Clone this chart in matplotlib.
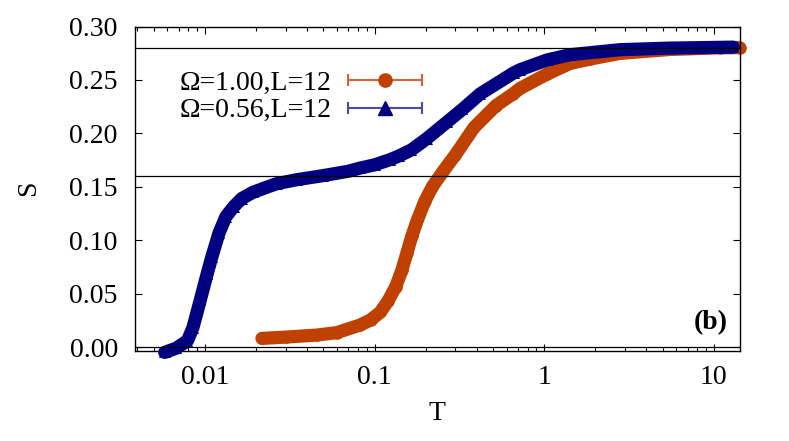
import numpy as np
import matplotlib
matplotlib.use('Agg')
import matplotlib.pyplot as plt
from matplotlib.ticker import FuncFormatter, NullFormatter, LogLocator, MultipleLocator
from matplotlib.legend_handler import HandlerErrorbar

# Omega = 1.00, L = 12
t_w100 = [0.0217, 0.03, 0.0457, 0.06, 0.0822, 0.095, 0.108, 0.12, 0.1334,
          0.145, 0.155, 0.166, 0.179, 0.198, 0.219, 0.255, 0.300, 0.386,
          0.52, 0.656, 0.72, 1.04, 1.42, 1.86, 2.79, 5.5, 10.8, 14.2]
s_w100 = [0.0081, 0.0093, 0.0112, 0.0135, 0.0206, 0.0255, 0.0325, 0.043,
          0.0565, 0.072, 0.0877, 0.104, 0.119, 0.1365, 0.150, 0.165, 0.180,
          0.2055, 0.226, 0.237, 0.242, 0.2555, 0.2654, 0.2695, 0.2748,
          0.2785, 0.2801, 0.2802]

# Omega = 0.56, L = 12
t_w056 = [0.0058, 0.0068, 0.0079, 0.0085, 0.0094, 0.0103, 0.0110, 0.0121,
          0.0133, 0.0148, 0.0165, 0.0193, 0.0265, 0.0348, 0.05, 0.07, 0.0822,
          0.1, 0.124, 0.14, 0.165, 0.203, 0.267, 0.33, 0.42, 0.66, 0.72,
          1.04, 1.42, 2.79, 5.5, 10.8, 13.0]
s_w056 = [-0.005, -0.001, 0.006, 0.018, 0.044, 0.068, 0.0845, 0.1064, 0.122,
          0.1314, 0.139, 0.145, 0.1529, 0.1566, 0.1605, 0.1645, 0.1675,
          0.1705, 0.1755, 0.179, 0.1845, 0.195, 0.2105, 0.2225, 0.237,
          0.2565, 0.2595, 0.2687, 0.2736, 0.2783, 0.2798, 0.2805, 0.2807]

ref_levels = [0.28, 0.16, 0.0]
labels = ['\u03a9=1.00,L=12', '\u03a9=0.56,L=12']

red = '#c04000'
red_bar = '#e0603a'
blue = '#000080'
blue_bar = '#4a4aaa'

plt.rcParams['font.family'] = ['Liberation Serif', 'DejaVu Serif']

fig = plt.figure(figsize=(7.89, 4.41), dpi=100)
ax = fig.add_axes([0.1705, 0.2041, 0.767, 0.7358])

ax.plot(t_w100, s_w100, '-', color=red, lw=9.5, solid_capstyle='round',
        solid_joinstyle='round', clip_on=False, zorder=2)
ax.plot(t_w100, s_w100, 'o', color=red, ms=9, mew=0, clip_on=False, zorder=2)
ax.plot(t_w056, s_w056, '-', color=blue, lw=9.5, solid_capstyle='round',
        solid_joinstyle='round', clip_on=False, zorder=3)
ax.plot(t_w056, s_w056, '^', color=blue, ms=9, mew=0, clip_on=False, zorder=3)

for lev in ref_levels:
    ax.axhline(lev, color='black', lw=0.9, zorder=4)

# legend proxies in gnuplot errorbar style
h1 = ax.errorbar([np.nan], [np.nan], xerr=[1.0], fmt='o', color=red,
                 ecolor=red_bar, ms=9.5, elinewidth=1.5, capsize=4,
                 capthick=1.5, label=labels[0])
h2 = ax.errorbar([np.nan], [np.nan], xerr=[1.0], fmt='^', color=blue,
                 ecolor=blue_bar, ms=10, elinewidth=1.5, capsize=4,
                 capthick=1.5, label=labels[1])
ax.legend(handles=[h1, h2], loc='center', bbox_to_anchor=(0.2747, 0.7837),
          frameon=False, fontsize=20, markerfirst=False, numpoints=1,
          handlelength=2.66, handletextpad=0.61, labelspacing=0.08,
          borderpad=0, handler_map={type(h1): HandlerErrorbar(xerr_size=1.33)})

ax.set_xscale('log')
ax.set_xlim(0.00385, 14.2)
ax.set_ylim(-0.0037, 0.30)
ax.yaxis.set_major_locator(MultipleLocator(0.05))
ax.yaxis.set_major_formatter(FuncFormatter(lambda v, p: f'{v:.2f}'))
ax.xaxis.set_major_locator(LogLocator(base=10))
ax.xaxis.set_minor_locator(LogLocator(base=10, subs=np.arange(2, 10)))
ax.xaxis.set_major_formatter(FuncFormatter(lambda v, p: f'{v:g}'))
ax.xaxis.set_minor_formatter(NullFormatter())

ax.tick_params(which='both', direction='in', top=True, right=True,
               labelsize=20, width=0.8)
ax.tick_params(which='major', length=5)
ax.tick_params(which='minor', length=3)
ax.tick_params(axis='y', pad=12)
ax.tick_params(axis='x', pad=10)
for sp in ax.spines.values():
    sp.set_linewidth(1.0)

ax.set_xlabel('T', fontsize=20, labelpad=8)
ax.set_ylabel('S', fontsize=20, labelpad=20)
ax.text(0.98, 0.086, '(b)', transform=ax.transAxes, ha='right', va='center',
        fontsize=20, fontweight='bold')

fig.savefig('out.png', dpi=100)
